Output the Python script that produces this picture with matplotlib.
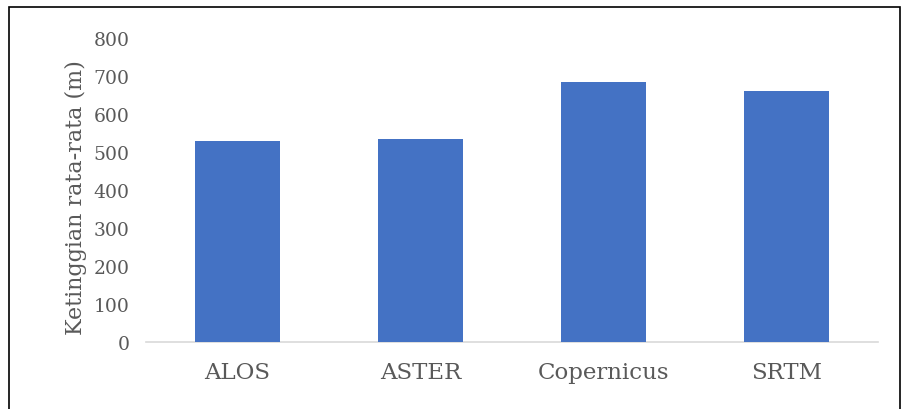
import matplotlib
matplotlib.use("Agg")
import matplotlib.pyplot as plt
from matplotlib.patches import Rectangle

categories = ["ALOS", "ASTER", "Copernicus", "SRTM"]
values = [530, 533, 684, 660]
yticks = [0, 100, 200, 300, 400, 500, 600, 700, 800]
ylabel = "Ketinggian rata-rata (m)"

plt.rcParams['font.family'] = ['DejaVu Serif']

W, H = 909, 410
fig = plt.figure(figsize=(W/100, H/100), dpi=100)
ax = fig.add_axes([146/W, 1-343/H, (878-146)/W, (343-39)/H])

ax.bar(range(len(categories)), values, width=0.46, color="#4472C4", zorder=3)
ax.set_xlim(-0.5, len(categories)-0.5)
ax.set_ylim(0, 800)
ax.set_yticks(yticks)
ax.set_yticklabels([str(t) for t in yticks])
ax.set_xticks(range(len(categories)))
ax.set_xticklabels(categories)

for s in ["top", "right", "left"]:
    ax.spines[s].set_visible(False)
ax.spines["bottom"].set_color("#D9D9D9")
ax.spines["bottom"].set_linewidth(1.2)

ax.tick_params(axis="y", length=0, pad=12, labelsize=13.5, labelcolor="#595959")
ax.tick_params(axis="x", length=0, pad=14, labelsize=16.5, labelcolor="#595959")
ax.set_ylabel(ylabel, fontsize=16, color="#595959", labelpad=2)
ax.yaxis.set_label_coords(-0.080, 0.48)

fig.patches.append(Rectangle((9/W, -0.05), (900-9)/W, 1.05-8/H, transform=fig.transFigure,
                             fill=False, edgecolor="black", linewidth=1.2))

fig.savefig("out.png", dpi=100)
